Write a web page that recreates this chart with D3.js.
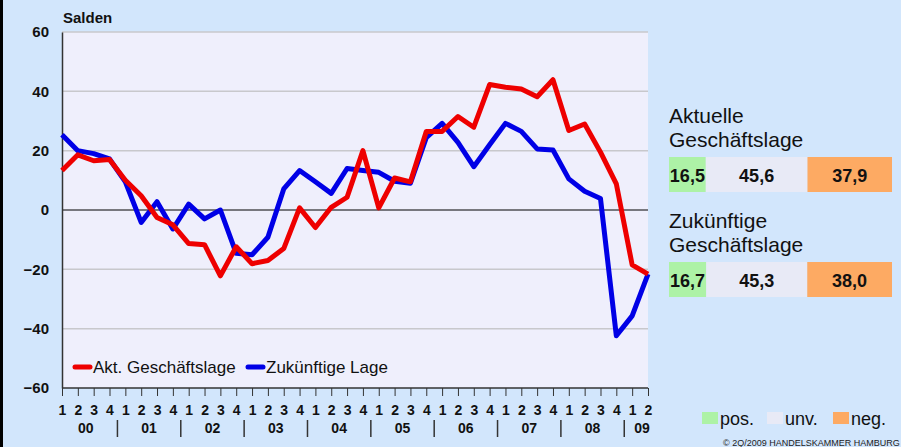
<!DOCTYPE html>
<html>
<head>
<meta charset="utf-8">
<script src="https://cdn.jsdelivr.net/npm/d3@7"></script>
<style>
  body { margin: 0; background: #d2e6fc; }
  svg { display: block; font-family: "Liberation Sans", Arial, sans-serif; }
</style>
</head>
<body>
<svg id="chart" width="901" height="447"></svg>
<script>
/* DATA */
const years = ["00", "01", "02", "03", "04", "05", "06", "07", "08", "09"];
const quarterLabels = ["1","2","3","4","1","2","3","4","1","2","3","4","1","2","3","4","1","2","3","4",
  "1","2","3","4","1","2","3","4","1","2","3","4","1","2","3","4","1","2"];

// Akt. Geschäftslage
const aktuell = [13.3, 18.6, 16.6, 17, 10, 4.8, -2.5, -5, -11.3, -11.7, -22.2, -12.4, -18.1, -17, -13,
  0.7, -5.9, 0.9, 4.3, 20, 0.7, 10.8, 9.5, 26.5, 26.5, 31.5, 27.9, 42.3, 41.4, 40.8, 38.2, 43.9,
  26.8, 29, 19.5, 8.8, -18.5, -21.6];
// Zukünftige Lage
const zukunft = [25.4, 20, 19, 17.2, 9.5, -4.2, 2.8, -6.4, 2, -3, 0, -14.6, -15.1, -9.2, 7.1,
  13.3, 9.5, 5.6, 14, 13.3, 12.7, 9.7, 9, 24.4, 29.2, 22.8, 14.6, 22, 29.2, 26.5, 20.6, 20.2,
  10.5, 6.3, 3.9, -42.4, -35.7, -21.6];

const yTicks = [60, 40, 20, 0, -20, -40, -60];

const panelTitles = [["Aktuelle", "Geschäftslage"], ["Zukünftige", "Geschäftslage"]];
const panelShares = [[16.5, 45.6, 37.9], [16.7, 45.3, 38.0]];
const shareNames = ["pos.", "unv.", "neg."];
const shareColors = ["#adf2a6", "#e8eaf6", "#fdaa63"];

/* LAYOUT */
const margin = { top: 32, left: 62 };
const plotW = 586, plotH = 356;
const font = "Liberation Sans, Arial, sans-serif";

const svg = d3.select("#chart");

// left frame line
svg.append("line").attr("x1", 1.5).attr("x2", 1.5).attr("y1", 0).attr("y2", 447)
  .attr("stroke", "#000").attr("stroke-width", 3);

const xScale = d3.scaleLinear().domain([0, aktuell.length - 1]).range([margin.left, margin.left + plotW]);
const yScale = d3.scaleLinear().domain([-60, 60]).range([margin.top + plotH, margin.top]);

// plot background
svg.append("rect")
  .attr("x", margin.left).attr("y", margin.top)
  .attr("width", plotW).attr("height", plotH)
  .attr("fill", "#efeffc");

// grid lines
svg.selectAll("line.grid")
  .data(yTicks.filter(d => d !== 0 && d !== -60))
  .join("line")
  .attr("class", "grid")
  .attr("x1", margin.left).attr("x2", margin.left + plotW)
  .attr("y1", d => yScale(d)).attr("y2", d => yScale(d))
  .attr("stroke", "#c8c8cc").attr("stroke-width", 1.5);

// zero line
svg.append("line")
  .attr("x1", margin.left).attr("x2", margin.left + plotW)
  .attr("y1", yScale(0)).attr("y2", yScale(0))
  .attr("stroke", "#000").attr("stroke-width", 1);

// y axis
const yAxis = d3.axisLeft(yScale).tickValues(yTicks).tickSize(0).tickPadding(13);
const yAxisGroup = svg.append("g")
  .attr("transform", `translate(${margin.left},0)`)
  .call(yAxis);
yAxisGroup.select(".domain").attr("stroke", "#333").attr("stroke-width", 1.5);
yAxisGroup.selectAll("text")
  .attr("font-size", 15).attr("font-weight", "bold").attr("fill", "#111")
  .attr("font-family", font);

// x axis
const xAxis = d3.axisBottom(xScale)
  .tickValues(d3.range(aktuell.length))
  .tickSize(8)
  .tickFormat((d, i) => quarterLabels[i])
  .tickPadding(9);
const xAxisGroup = svg.append("g")
  .attr("transform", `translate(0,${margin.top + plotH})`)
  .call(xAxis);
xAxisGroup.select(".domain").attr("stroke", "#333").attr("stroke-width", 1.5).attr("d", `M${margin.left},0H${margin.left + plotW}`);
xAxisGroup.selectAll(".tick line").attr("stroke", "#333");
xAxisGroup.selectAll("text")
  .attr("font-size", 14).attr("font-weight", "bold").attr("fill", "#111")
  .attr("font-family", font);

// year labels and separators
svg.selectAll("text.year")
  .data(years)
  .join("text")
  .attr("class", "year")
  .attr("x", (d, i) => {
    const last = Math.min(i * 4 + 3, aktuell.length - 1);
    return (xScale(i * 4) + xScale(last)) / 2 + (i === years.length - 1 ? 2 : 0);
  })
  .attr("y", 433)
  .attr("text-anchor", "middle")
  .attr("font-size", 14).attr("font-weight", "bold").attr("fill", "#111")
  .text(d => d);

svg.selectAll("line.sep")
  .data(years.slice(1))
  .join("line")
  .attr("class", "sep")
  .attr("x1", (d, i) => (xScale(i * 4 + 3) + xScale(i * 4 + 4)) / 2)
  .attr("x2", (d, i) => (xScale(i * 4 + 3) + xScale(i * 4 + 4)) / 2)
  .attr("y1", 420).attr("y2", 437)
  .attr("stroke", "#333").attr("stroke-width", 1.5);

// "Salden"
svg.append("text").attr("x", 63).attr("y", 23)
  .attr("font-size", 15).attr("font-weight", "bold").attr("fill", "#111")
  .text("Salden");

// lines
const lineFunction = d3.line()
  .x((d, i) => xScale(i))
  .y(d => yScale(d));

svg.append("path").datum(zukunft)
  .attr("d", lineFunction)
  .attr("fill", "none").attr("stroke", "#0000e6").attr("stroke-width", 5)
  .attr("stroke-linejoin", "round");

svg.append("path").datum(aktuell)
  .attr("d", lineFunction)
  .attr("fill", "none").attr("stroke", "#ee0000").attr("stroke-width", 5)
  .attr("stroke-linejoin", "round");

// legend inside plot
const legendItems = [
  { label: "Akt. Geschäftslage", color: "#ee0000", x: 75 },
  { label: "Zukünftige Lage", color: "#0000e6", x: 248 }
];
const lg = svg.selectAll("g.legend")
  .data(legendItems)
  .join("g")
  .attr("class", "legend")
  .attr("transform", d => `translate(${d.x},367)`);
lg.append("line").attr("x1", 0).attr("x2", 15).attr("y1", 0).attr("y2", 0)
  .attr("stroke", d => d.color).attr("stroke-width", 5).attr("stroke-linecap", "round");
lg.append("text").attr("x", 18).attr("y", 6)
  .attr("font-size", 17).attr("fill", "#111")
  .text(d => d.label);

// right panels
const boxX = d3.scaleLinear().domain([0, 100]).range([669, 892]);
const panelY = [0, 105];

panelTitles.forEach((title, p) => {
  const g = svg.append("g").attr("transform", `translate(0,${panelY[p]})`);
  g.selectAll("text.title")
    .data(title)
    .join("text")
    .attr("class", "title")
    .attr("x", 669)
    .attr("y", (d, i) => 123 + i * 24)
    .attr("font-size", 21).attr("fill", "#111")
    .text(d => d);

  let acc = 0;
  const cells = panelShares[p].map((v, i) => {
    const c = { v, i, x0: acc, x1: acc + v };
    acc += v;
    return c;
  });
  g.selectAll("rect.cell")
    .data(cells)
    .join("rect")
    .attr("class", "cell")
    .attr("x", d => boxX(d.x0))
    .attr("width", d => boxX(d.x1) - boxX(d.x0))
    .attr("y", 157).attr("height", 35)
    .attr("fill", d => shareColors[d.i]);
  g.selectAll("text.val")
    .data(cells)
    .join("text")
    .attr("class", "val")
    .attr("x", d => (boxX(d.x0) + boxX(d.x1)) / 2)
    .attr("y", 182)
    .attr("text-anchor", "middle")
    .attr("font-size", 18).attr("font-weight", "bold").attr("fill", "#111")
    .text(d => d3.format(".1f")(d.v).replace(".", ","));
});

// bottom legend
const blX = [702, 767, 833];
const bl = svg.selectAll("g.blegend")
  .data(shareNames)
  .join("g")
  .attr("class", "blegend")
  .attr("transform", (d, i) => `translate(${blX[i]},412)`);
bl.append("rect").attr("width", 16).attr("height", 12)
  .attr("fill", (d, i) => shareColors[i]);
bl.append("text").attr("x", 18).attr("y", 13)
  .attr("font-size", 18).attr("fill", "#111")
  .text(d => d);

// copyright
svg.append("text").attr("x", 723).attr("y", 446)
  .attr("font-size", 9).attr("fill", "#222")
  .text("© 2Q/2009 HANDELSKAMMER HAMBURG");
</script>
</body>
</html>
